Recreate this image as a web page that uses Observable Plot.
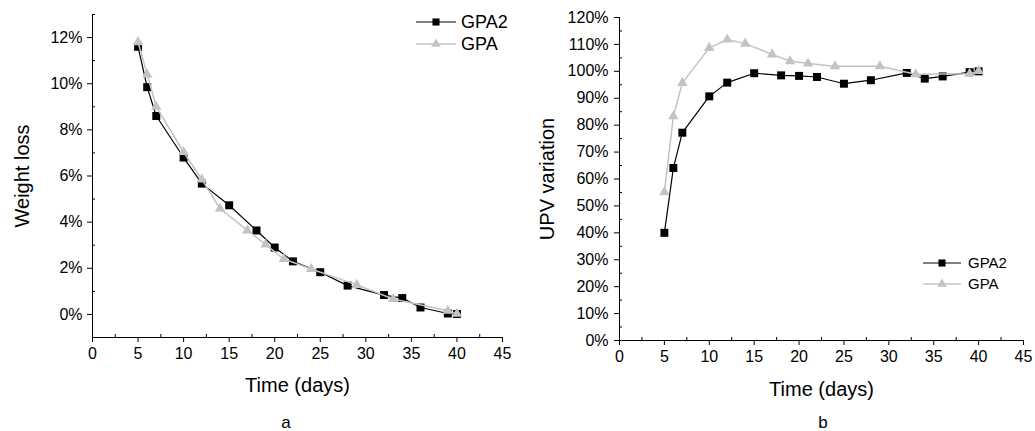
<!DOCTYPE html>
<html>
<head>
<meta charset="utf-8">
<script src="https://cdn.jsdelivr.net/npm/d3@7"></script>
<script src="https://cdn.jsdelivr.net/npm/@observablehq/plot@0.6"></script>
<style>
  html, body { margin: 0; padding: 0; background: #fff; }
  #wrap { position: relative; width: 1035px; height: 431px; font-family: Arial, "Liberation Sans", sans-serif; }
  .panel { position: absolute; top: 0; height: 431px; }
  .cap { position: absolute; top: 413px; font-size: 17px; transform: translateX(-50%); color: #000; }
</style>
</head>
<body>
<div id="wrap">
  <div class="panel" id="pa" style="left:0;width:517px"></div>
  <div class="panel" id="pb" style="left:517px;width:518px"></div>
  <div class="cap" style="left:286px">a</div>
  <div class="cap" style="left:823px">b</div>
</div>
<script>
// ---- data ----
const seriesNames = ["GPA2", "GPA"];
const daysGPA2 = [5, 6, 7, 10, 12, 15, 18, 20, 22, 25, 28, 32, 34, 36, 39, 40];
const daysGPA  = [5, 6, 7, 10, 12, 14, 17, 19, 21, 24, 29, 33, 39, 40];
const weightLossGPA2 = [11.6, 9.85, 8.6, 6.8, 5.67, 4.73, 3.64, 2.9, 2.3, 1.83, 1.25, 0.84, 0.71, 0.3, 0.04, 0.02];
const weightLossGPA  = [11.8, 10.4, 9.0, 7.04, 5.85, 4.58, 3.64, 3.03, 2.4, 1.97, 1.28, 0.67, 0.16, 0.03];
const upvGPA2 = [40.0, 64.1, 77.2, 90.7, 95.8, 99.3, 98.5, 98.3, 97.9, 95.4, 96.7, 99.4, 97.3, 98.1, 99.7, 100.0];
const upvGPA  = [55.1, 83.3, 95.7, 108.7, 111.8, 110.3, 106.3, 103.8, 102.9, 101.9, 101.9, 98.9, 99.1, 100.1];
const xTicks = [0, 5, 10, 15, 20, 25, 30, 35, 40, 45];
const xMinorTicks = [2.5, 7.5, 12.5, 17.5, 22.5, 27.5, 32.5, 37.5, 42.5];
const yTicksA = [0, 2, 4, 6, 8, 10, 12];
const yMinorA = [-1, 1, 3, 5, 7, 9, 11, 13];
const yTicksB = [0, 10, 20, 30, 40, 50, 60, 70, 80, 90, 100, 110, 120];
const yMinorB = [5, 15, 25, 35, 45, 55, 65, 75, 85, 95, 105, 115];
const xLabel = "Time (days)";
const yLabelA = "Weight loss";
const yLabelB = "UPV variation";

const COL2 = "#000000";
const COL1 = "#c3c3c3";

const zip = (xs, ys, name) => xs.map((x, i) => ({x, y: ys[i], series: name}));
const wl2 = zip(daysGPA2, weightLossGPA2, seriesNames[0]);
const wl1 = zip(daysGPA, weightLossGPA, seriesNames[1]);
const up2 = zip(daysGPA2, upvGPA2, seriesNames[0]);
const up1 = zip(daysGPA, upvGPA, seriesNames[1]);

const font = 'Arial, "Liberation Sans", sans-serif';

function panel({width, mL, mR, mT, mB, yDomain, yTicks, yMinor, d2, d1, yLabel, yDx, xDy, tickPadY}) {
  return Plot.plot({
    width, height: 400,
    marginLeft: mL, marginRight: mR, marginTop: mT, marginBottom: mB,
    style: {fontFamily: font, fontSize: "16px", color: "#000", background: "#fff", overflow: "visible"},
    x: {domain: [0, 45]},
    y: {domain: yDomain},
    marks: [
      Plot.axisX({ticks: xMinorTicks, tickSize: -3, tickFormat: () => "", label: null}),
      Plot.axisX({ticks: xTicks, tickSize: 5, tickPadding: 5, tickFormat: d => String(d), label: null, fontSize: 16}),
      Plot.axisY({ticks: yMinor, tickSize: -3, tickFormat: () => "", label: null}),
      Plot.axisY({ticks: yTicks, tickSize: 5, tickPadding: tickPadY, tickFormat: d => d + "%", label: null, fontSize: 16}),
      Plot.ruleX([0], {stroke: "#000", strokeWidth: 1}),
      Plot.ruleY([yDomain[0]], {stroke: "#000", strokeWidth: 1}),
      Plot.line(d2, {x: "x", y: "y", stroke: COL2, strokeWidth: 1.2}),
      Plot.dot(d2, {x: "x", y: "y", symbol: "square", fill: COL2, r: 4.5}),
      Plot.line(d1, {x: "x", y: "y", stroke: COL1, strokeWidth: 1.5}),
      Plot.dot(d1, {x: "x", y: "y", symbol: "triangle", fill: COL1, r: 3.9}),
      Plot.text([xLabel], {frameAnchor: "bottom", dy: xDy, text: d => d, fontSize: 20, lineAnchor: "middle", textAnchor: "middle"}),
      Plot.text([yLabel], {frameAnchor: "left", dx: yDx, text: d => d, fontSize: 20, rotate: -90, lineAnchor: "middle", textAnchor: "middle"})
    ]
  });
}

function addLegend(svg, {x0, x1, ys, tx, fs}) {
  const g = d3.select(svg).append("g").attr("font-family", font).attr("font-size", fs).attr("text-anchor", "start");
  const items = [
    {name: seriesNames[0], color: COL2, sym: d3.symbolSquare, r: 4.0, sw: 1.2},
    {name: seriesNames[1], color: COL1, sym: d3.symbolTriangle, r: 3.6, sw: 1.5}
  ];
  items.forEach((it, i) => {
    const y = ys[i];
    g.append("line").attr("x1", x0).attr("x2", x1).attr("y1", y).attr("y2", y)
      .attr("stroke", it.color).attr("stroke-width", it.sw);
    g.append("path").attr("d", d3.symbol(it.sym, Math.PI * it.r * it.r)())
      .attr("transform", `translate(${(x0 + x1) / 2},${y})`).attr("fill", it.color);
    g.append("text").attr("x", tx).attr("y", y).attr("dy", "0.35em").attr("fill", "#000")
      .attr("text-anchor", "start").text(it.name);
  });
}

const svgA = panel({width: 517, mL: 92, mR: 15, mT: 14, mB: 63, yDomain: [-1, 13], yTicks: yTicksA, yMinor: yMinorA,
  d2: wl2, d1: wl1, yLabel: yLabelA, yDx: -70, xDy: 48, tickPadY: 5});
addLegend(svgA, {x0: 416, x1: 456, ys: [22, 44], tx: 461, fs: 18});
document.getElementById("pa").appendChild(svgA);

const svgB = panel({width: 518, mL: 102, mR: 12, mT: 17, mB: 60, yDomain: [0, 120], yTicks: yTicksB, yMinor: yMinorB,
  d2: up2, d1: up1, yLabel: yLabelB, yDx: -72, xDy: 49, tickPadY: 6});
addLegend(svgB, {x0: 406, x1: 444, ys: [263, 284], tx: 451, fs: 15});
document.getElementById("pb").appendChild(svgB);
</script>
</body>
</html>
